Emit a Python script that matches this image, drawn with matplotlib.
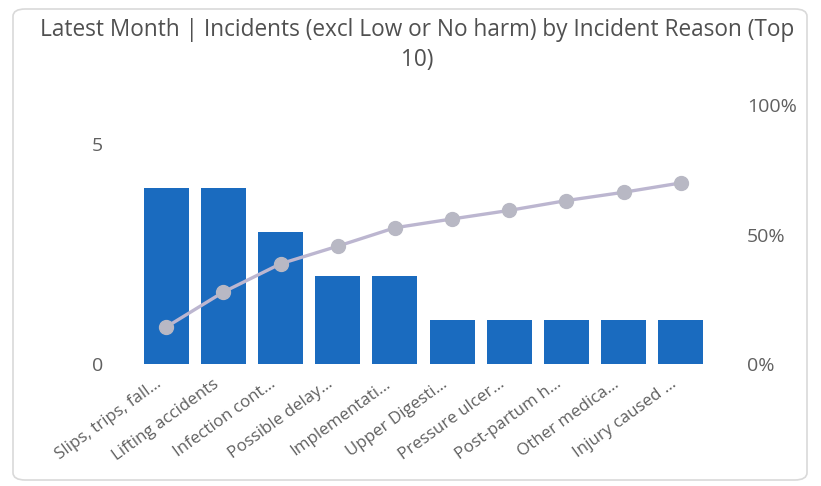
import matplotlib
matplotlib.use("Agg")
import matplotlib.pyplot as plt
import matplotlib.transforms as mtransforms
from matplotlib.patches import FancyBboxPatch

categories = ["Slips, trips, fall…", "Lifting accidents", "Infection cont…", "Possible delay…",
              "Implementati…", "Upper Digesti…", "Pressure ulcer…", "Post-partum h…",
              "Other medica…", "Injury caused …"]
counts = [4, 4, 3, 2, 2, 1, 1, 1, 1, 1]
cum_pct = [14.3, 27.8, 38.7, 45.5, 52.6, 56.0, 59.3, 63.1, 66.3, 69.9]
left_ticks = [0, 5]
right_ticks = [0, 50, 100]
title = "Latest Month | Incidents (excl Low or No harm) by Incident Reason (Top\n10)"

plt.rcParams['font.family'] = ['Open Sans', 'DejaVu Sans']

W, H = 821, 486
fig = plt.figure(figsize=(W / 100, H / 100), dpi=100)
fig.patch.set_facecolor("white")

card = FancyBboxPatch((13 / W, 1 - 480 / H), (807 - 13) / W, (480 - 9) / H,
                      boxstyle="round,pad=0,rounding_size=0.015",
                      transform=fig.transFigure, facecolor="white",
                      edgecolor="#d9d9d9", linewidth=1.2, zorder=-10)
fig.patches.append(card)

x0, x1 = 132, 715
y_top, y_bot = 105, 364
ax = fig.add_axes([x0 / W, 1 - y_bot / H, (x1 - x0) / W, (y_bot - y_top) / H])
ax.set_facecolor("none")
xs = list(range(len(categories)))
ax.bar(xs, counts, width=0.79, color="#1A6BBF", zorder=2)
ax.set_xlim(-0.6, len(categories) - 0.4)
ax.set_ylim(0, 259 / 44)
ax.set_yticks(left_ticks)
ax.set_xticks(xs)
ax.set_xticklabels([""] * len(categories))
shift = mtransforms.ScaledTranslation(-11 / 100, -12 / 100, fig.dpi_scale_trans)
for x, lab in zip(xs, categories):
    ax.text(x, 0, lab, rotation=36, ha="right", va="top", rotation_mode="anchor",
            fontsize=12.2, color="#606060",
            transform=ax.get_xaxis_transform() + shift)
for s in ax.spines.values():
    s.set_visible(False)
ax.tick_params(axis="both", length=0)
ax.tick_params(axis="y", labelsize=14, colors="#606060", pad=21)

ax2 = ax.twinx()
ax2.plot(xs, cum_pct, color="#BCB6D0", linewidth=2.4, marker="o", markersize=10,
         markerfacecolor="#B8B8C4", markeredgecolor="#B8B8C4", zorder=3)
ax2.set_ylim(0, 100)
ax2.set_yticks(right_ticks)
ax2.set_yticklabels([f"{t}%" for t in right_ticks])
for s in ax2.spines.values():
    s.set_visible(False)
ax2.tick_params(axis="y", length=0, labelsize=14, colors="#606060", pad=23)

fig.text(417 / W, 1 - 45 / H, title, ha="center", va="center", fontsize=16.3,
         color="#505050", linespacing=1.3)

fig.savefig("out.png", dpi=100, facecolor="white")
